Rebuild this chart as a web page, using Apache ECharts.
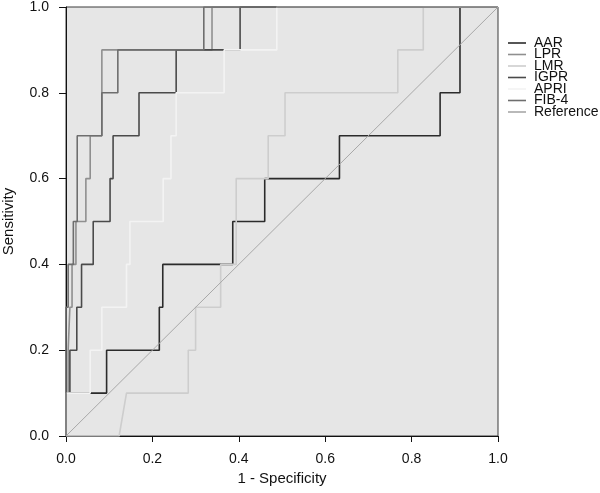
<!DOCTYPE html>
<html>
<head>
<meta charset="utf-8">
<script src="https://cdn.jsdelivr.net/npm/echarts@6/dist/echarts.min.js"></script>
<style>
  html, body { margin: 0; padding: 0; background: #fff; }
  #roc { width: 600px; height: 493px; }
</style>
</head>
<body>
<div id="roc"></div>
<script>
// ROC curves - step points (1 - specificity, sensitivity)

var curveNames = ['AAR', 'LPR', 'LMR', 'IGPR', 'APRI', 'FIB-4', 'Reference'];

var aarFpr = [0, 0, 0.094, 0.094, 0.216, 0.216, 0.224, 0.224, 0.386, 0.386, 0.46, 0.46, 0.633, 0.633, 0.866, 0.866, 0.912, 0.912, 1];
var aarTpr = [0, 0.1, 0.1, 0.2, 0.2, 0.3, 0.3, 0.4, 0.4, 0.5, 0.5, 0.6, 0.6, 0.7, 0.7, 0.8, 0.8, 1, 1];

var lprFpr = [0, 0, 0.005, 0.005, 0.009, 0.009, 0.014, 0.014, 0.023, 0.023, 0.046, 0.046, 0.056, 0.056, 0.083, 0.083, 0.338, 0.338, 1];
var lprTpr = [0, 0.1, 0.1, 0.2, 0.2, 0.3, 0.3, 0.4, 0.4, 0.5, 0.5, 0.6, 0.6, 0.7, 0.7, 0.9, 0.9, 1, 1];

var lmrFpr = [0, 0.123, 0.14, 0.283, 0.283, 0.30, 0.30, 0.358, 0.358, 0.394, 0.394, 0.468, 0.468, 0.507, 0.507, 0.768, 0.768, 0.827, 0.827, 1];
var lmrTpr = [0, 0, 0.1, 0.1, 0.2, 0.2, 0.3, 0.3, 0.4, 0.4, 0.6, 0.6, 0.7, 0.7, 0.8, 0.8, 0.9, 0.9, 1, 1];

var igprFpr = [0, 0, 0.009, 0.009, 0.025, 0.025, 0.036, 0.036, 0.063, 0.063, 0.102, 0.102, 0.109, 0.109, 0.169, 0.169, 0.255, 0.255, 0.403, 0.403, 1];
var igprTpr = [0, 0.1, 0.1, 0.2, 0.2, 0.3, 0.3, 0.4, 0.4, 0.5, 0.5, 0.6, 0.6, 0.7, 0.7, 0.8, 0.8, 0.9, 0.9, 1, 1];

var apriFpr = [0, 0, 0.056, 0.056, 0.083, 0.083, 0.14, 0.14, 0.148, 0.148, 0.225, 0.225, 0.243, 0.243, 0.255, 0.255, 0.366, 0.366, 0.488, 0.488, 1];
var apriTpr = [0, 0.1, 0.1, 0.2, 0.2, 0.3, 0.3, 0.4, 0.4, 0.5, 0.5, 0.6, 0.6, 0.7, 0.7, 0.8, 0.8, 0.9, 0.9, 1, 1];

var fibFpr = [0, 0, 0.005, 0.005, 0.017, 0.017, 0.026, 0.026, 0.083, 0.083, 0.12, 0.12, 0.319, 0.319, 1];
var fibTpr = [0, 0.3, 0.3, 0.4, 0.4, 0.5, 0.5, 0.7, 0.7, 0.8, 0.8, 0.9, 0.9, 1, 1];

var refFpr = [0, 1];
var refTpr = [0, 1];

var tickLabels = ['0.0', '0.2', '0.4', '0.6', '0.8', '1.0'];

var curveColors = ['#2b2b2b', '#8f8f8f', '#cdcdcd', '#4a4a4a', '#f3f3f3', '#6e6e6e', '#a8a8a8'];

function pairs(xs, ys) {
  var out = [];
  for (var i = 0; i < xs.length; i++) out.push([xs[i], ys[i]]);
  return out;
}

var curves = [
  pairs(aarFpr, aarTpr),
  pairs(lprFpr, lprTpr),
  pairs(lmrFpr, lmrTpr),
  pairs(igprFpr, igprTpr),
  pairs(apriFpr, apriTpr),
  pairs(fibFpr, fibTpr),
  pairs(refFpr, refTpr)
];

var font = '"Liberation Sans", Arial, sans-serif';

var chart = echarts.init(document.getElementById('roc'), null, { renderer: 'canvas' });

var series = curveNames.map(function (name, i) {
  return {
    name: name,
    type: 'line',
    data: curves[i],
    symbol: 'none',
    silent: true,
    animation: false,
    lineStyle: { color: curveColors[i], width: i === 6 ? 1 : 1.6 },
    itemStyle: { color: curveColors[i] }
  };
});

// legend swatches are plain short lines, no symbol
var legendData = curveNames.map(function (name, i) {
  return { name: name, icon: 'rect', itemStyle: { color: curveColors[i] } };
});

function tickFmt(v) {
  var idx = Math.round(v / 0.2);
  return tickLabels[idx];
}

var option = {
  animation: false,
  grid: {
    left: 66, top: 7, right: 102, bottom: 57,
    containLabel: false,
    outerBoundsMode: 'none',
    show: true,
    backgroundColor: '#e6e6e6',
    borderColor: '#3a3a3a',
    borderWidth: 1
  },
  legend: {
    orient: 'vertical',
    left: 503,
    top: 31,
    itemWidth: 18,
    itemHeight: 1.6,
    itemGap: -2.5,
    selectedMode: false,
    data: legendData,
    textStyle: { fontFamily: font, fontSize: 14, color: '#111', padding: [0, 0, 0, 3] }
  },
  xAxis: {
    type: 'value',
    min: 0, max: 1, interval: 0.2,
    name: '1 - Specificity',
    nameLocation: 'middle',
    nameGap: 35,
    nameTextStyle: { fontFamily: font, fontSize: 15, color: '#111' },
    axisLine: { show: true, lineStyle: { color: '#111', width: 1 } },
    axisTick: { show: true, length: 6, lineStyle: { color: '#111' } },
    axisLabel: { fontFamily: font, fontSize: 14, color: '#111', margin: 16, formatter: tickFmt },
    splitLine: { show: false }
  },
  yAxis: {
    type: 'value',
    min: 0, max: 1, interval: 0.2,
    name: 'Sensitivity',
    nameLocation: 'middle',
    nameGap: 50,
    nameTextStyle: { fontFamily: font, fontSize: 15, color: '#111' },
    axisLine: { show: true, lineStyle: { color: '#111', width: 1 } },
    axisTick: { show: true, length: 7, lineStyle: { color: '#111' } },
    axisLabel: { fontFamily: font, fontSize: 14, color: '#111', margin: 17, formatter: tickFmt },
    splitLine: { show: false }
  },
  series: series
};

chart.setOption(option);
</script>
</body>
</html>
